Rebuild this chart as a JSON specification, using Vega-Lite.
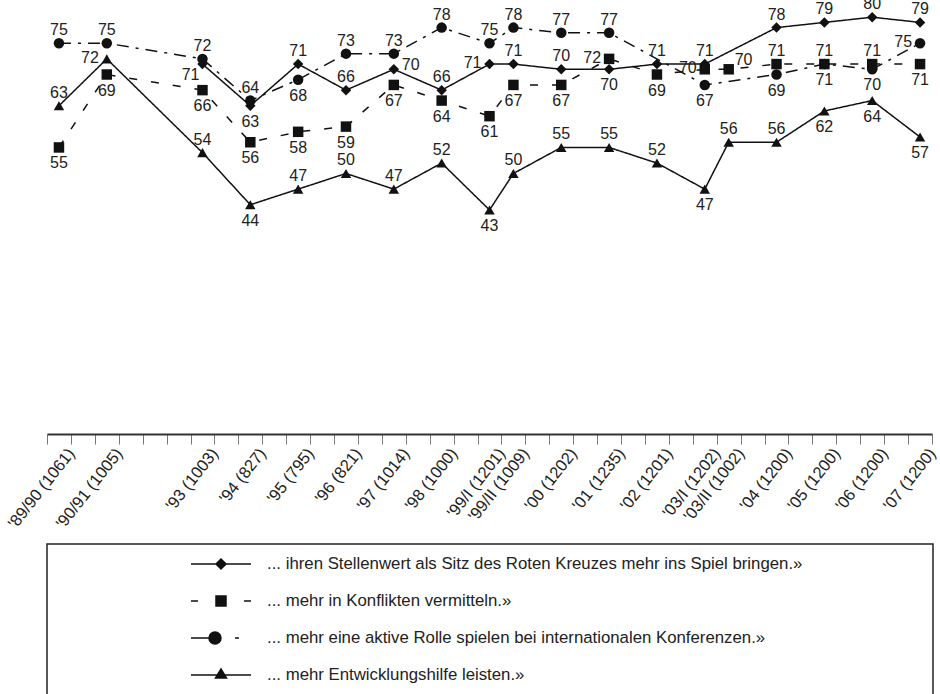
{
  "$schema": "https://vega.github.io/schema/vega-lite/v6.json",
  "width": 885,
  "height": 434,
  "autosize": "none",
  "padding": {"left": 47, "top": 0, "right": 8, "bottom": 260},
  "config": {
    "view": {"stroke": null},
    "font": "Liberation Sans",
    "axis": {
      "labelFont": "Liberation Sans",
      "labelFontSize": 16.5,
      "labelColor": "#222",
      "domainColor": "#333",
      "domainWidth": 2,
      "tickColor": "#777",
      "tickWidth": 1,
      "tickSize": 10,
      "grid": false,
      "title": null
    },
    "legend": {
      "orient": "none",
      "legendX": 0,
      "legendY": 544,
      "padding": 9,
      "strokeColor": "#222",
      "strokeWidth": 1.5,
      "labelFont": "Liberation Sans",
      "labelFontSize": 16.8,
      "labelColor": "#222",
      "labelLimit": 2000,
      "symbolSize": 400,
      "symbolStrokeWidth": 1.5,
      "symbolOpacity": 1,
      "symbolOffset": 154,
      "labelOffset": 35,
      "rowPadding": 17
    }
  },
  "datasets": {
    "werte": [
      {"welle": "'93 (1003)", "reihe": "... ihren Stellenwert als Sitz des Roten Kreuzes mehr ins Spiel bringen.»", "wert": 71},
      {"welle": "'94 (827)", "reihe": "... ihren Stellenwert als Sitz des Roten Kreuzes mehr ins Spiel bringen.»", "wert": 63},
      {"welle": "'95 (795)", "reihe": "... ihren Stellenwert als Sitz des Roten Kreuzes mehr ins Spiel bringen.»", "wert": 71},
      {"welle": "'96 (821)", "reihe": "... ihren Stellenwert als Sitz des Roten Kreuzes mehr ins Spiel bringen.»", "wert": 66},
      {"welle": "'97 (1014)", "reihe": "... ihren Stellenwert als Sitz des Roten Kreuzes mehr ins Spiel bringen.»", "wert": 70},
      {"welle": "'98 (1000)", "reihe": "... ihren Stellenwert als Sitz des Roten Kreuzes mehr ins Spiel bringen.»", "wert": 66},
      {"welle": "'99/I (1201)", "reihe": "... ihren Stellenwert als Sitz des Roten Kreuzes mehr ins Spiel bringen.»", "wert": 71},
      {"welle": "'99/II (1009)", "reihe": "... ihren Stellenwert als Sitz des Roten Kreuzes mehr ins Spiel bringen.»", "wert": 71},
      {"welle": "'00 (1202)", "reihe": "... ihren Stellenwert als Sitz des Roten Kreuzes mehr ins Spiel bringen.»", "wert": 70},
      {"welle": "'01 (1235)", "reihe": "... ihren Stellenwert als Sitz des Roten Kreuzes mehr ins Spiel bringen.»", "wert": 70},
      {"welle": "'02 (1201)", "reihe": "... ihren Stellenwert als Sitz des Roten Kreuzes mehr ins Spiel bringen.»", "wert": 71},
      {"welle": "'03/I (1202)", "reihe": "... ihren Stellenwert als Sitz des Roten Kreuzes mehr ins Spiel bringen.»", "wert": 71},
      {"welle": "'04 (1200)", "reihe": "... ihren Stellenwert als Sitz des Roten Kreuzes mehr ins Spiel bringen.»", "wert": 78},
      {"welle": "'05 (1200)", "reihe": "... ihren Stellenwert als Sitz des Roten Kreuzes mehr ins Spiel bringen.»", "wert": 79},
      {"welle": "'06 (1200)", "reihe": "... ihren Stellenwert als Sitz des Roten Kreuzes mehr ins Spiel bringen.»", "wert": 80},
      {"welle": "'07 (1200)", "reihe": "... ihren Stellenwert als Sitz des Roten Kreuzes mehr ins Spiel bringen.»", "wert": 79},

      {"welle": "'89/90 (1061)", "reihe": "... mehr in Konflikten vermitteln.»", "wert": 55},
      {"welle": "'90/91 (1005)", "reihe": "... mehr in Konflikten vermitteln.»", "wert": 69},
      {"welle": "'93 (1003)", "reihe": "... mehr in Konflikten vermitteln.»", "wert": 66},
      {"welle": "'94 (827)", "reihe": "... mehr in Konflikten vermitteln.»", "wert": 56},
      {"welle": "'95 (795)", "reihe": "... mehr in Konflikten vermitteln.»", "wert": 58},
      {"welle": "'96 (821)", "reihe": "... mehr in Konflikten vermitteln.»", "wert": 59},
      {"welle": "'97 (1014)", "reihe": "... mehr in Konflikten vermitteln.»", "wert": 67},
      {"welle": "'98 (1000)", "reihe": "... mehr in Konflikten vermitteln.»", "wert": 64},
      {"welle": "'99/I (1201)", "reihe": "... mehr in Konflikten vermitteln.»", "wert": 61},
      {"welle": "'99/II (1009)", "reihe": "... mehr in Konflikten vermitteln.»", "wert": 67},
      {"welle": "'00 (1202)", "reihe": "... mehr in Konflikten vermitteln.»", "wert": 67},
      {"welle": "'01 (1235)", "reihe": "... mehr in Konflikten vermitteln.»", "wert": 72},
      {"welle": "'02 (1201)", "reihe": "... mehr in Konflikten vermitteln.»", "wert": 69},
      {"welle": "'03/I (1202)", "reihe": "... mehr in Konflikten vermitteln.»", "wert": 70},
      {"welle": "'03/II (1002)", "reihe": "... mehr in Konflikten vermitteln.»", "wert": 70},
      {"welle": "'04 (1200)", "reihe": "... mehr in Konflikten vermitteln.»", "wert": 71},
      {"welle": "'05 (1200)", "reihe": "... mehr in Konflikten vermitteln.»", "wert": 71},
      {"welle": "'06 (1200)", "reihe": "... mehr in Konflikten vermitteln.»", "wert": 71},
      {"welle": "'07 (1200)", "reihe": "... mehr in Konflikten vermitteln.»", "wert": 71},

      {"welle": "'89/90 (1061)", "reihe": "... mehr eine aktive Rolle spielen bei internationalen Konferenzen.»", "wert": 75},
      {"welle": "'90/91 (1005)", "reihe": "... mehr eine aktive Rolle spielen bei internationalen Konferenzen.»", "wert": 75},
      {"welle": "'93 (1003)", "reihe": "... mehr eine aktive Rolle spielen bei internationalen Konferenzen.»", "wert": 72},
      {"welle": "'94 (827)", "reihe": "... mehr eine aktive Rolle spielen bei internationalen Konferenzen.»", "wert": 64},
      {"welle": "'95 (795)", "reihe": "... mehr eine aktive Rolle spielen bei internationalen Konferenzen.»", "wert": 68},
      {"welle": "'96 (821)", "reihe": "... mehr eine aktive Rolle spielen bei internationalen Konferenzen.»", "wert": 73},
      {"welle": "'97 (1014)", "reihe": "... mehr eine aktive Rolle spielen bei internationalen Konferenzen.»", "wert": 73},
      {"welle": "'98 (1000)", "reihe": "... mehr eine aktive Rolle spielen bei internationalen Konferenzen.»", "wert": 78},
      {"welle": "'99/I (1201)", "reihe": "... mehr eine aktive Rolle spielen bei internationalen Konferenzen.»", "wert": 75},
      {"welle": "'99/II (1009)", "reihe": "... mehr eine aktive Rolle spielen bei internationalen Konferenzen.»", "wert": 78},
      {"welle": "'00 (1202)", "reihe": "... mehr eine aktive Rolle spielen bei internationalen Konferenzen.»", "wert": 77},
      {"welle": "'01 (1235)", "reihe": "... mehr eine aktive Rolle spielen bei internationalen Konferenzen.»", "wert": 77},
      {"welle": "'03/I (1202)", "reihe": "... mehr eine aktive Rolle spielen bei internationalen Konferenzen.»", "wert": 67},
      {"welle": "'04 (1200)", "reihe": "... mehr eine aktive Rolle spielen bei internationalen Konferenzen.»", "wert": 69},
      {"welle": "'05 (1200)", "reihe": "... mehr eine aktive Rolle spielen bei internationalen Konferenzen.»", "wert": 71},
      {"welle": "'06 (1200)", "reihe": "... mehr eine aktive Rolle spielen bei internationalen Konferenzen.»", "wert": 70},
      {"welle": "'07 (1200)", "reihe": "... mehr eine aktive Rolle spielen bei internationalen Konferenzen.»", "wert": 75},

      {"welle": "'89/90 (1061)", "reihe": "... mehr Entwicklungshilfe leisten.»", "wert": 63},
      {"welle": "'90/91 (1005)", "reihe": "... mehr Entwicklungshilfe leisten.»", "wert": 72},
      {"welle": "'93 (1003)", "reihe": "... mehr Entwicklungshilfe leisten.»", "wert": 54},
      {"welle": "'94 (827)", "reihe": "... mehr Entwicklungshilfe leisten.»", "wert": 44},
      {"welle": "'95 (795)", "reihe": "... mehr Entwicklungshilfe leisten.»", "wert": 47},
      {"welle": "'96 (821)", "reihe": "... mehr Entwicklungshilfe leisten.»", "wert": 50},
      {"welle": "'97 (1014)", "reihe": "... mehr Entwicklungshilfe leisten.»", "wert": 47},
      {"welle": "'98 (1000)", "reihe": "... mehr Entwicklungshilfe leisten.»", "wert": 52},
      {"welle": "'99/I (1201)", "reihe": "... mehr Entwicklungshilfe leisten.»", "wert": 43},
      {"welle": "'99/II (1009)", "reihe": "... mehr Entwicklungshilfe leisten.»", "wert": 50},
      {"welle": "'00 (1202)", "reihe": "... mehr Entwicklungshilfe leisten.»", "wert": 55},
      {"welle": "'01 (1235)", "reihe": "... mehr Entwicklungshilfe leisten.»", "wert": 55},
      {"welle": "'02 (1201)", "reihe": "... mehr Entwicklungshilfe leisten.»", "wert": 52},
      {"welle": "'03/I (1202)", "reihe": "... mehr Entwicklungshilfe leisten.»", "wert": 47},
      {"welle": "'03/II (1002)", "reihe": "... mehr Entwicklungshilfe leisten.»", "wert": 56},
      {"welle": "'04 (1200)", "reihe": "... mehr Entwicklungshilfe leisten.»", "wert": 56},
      {"welle": "'05 (1200)", "reihe": "... mehr Entwicklungshilfe leisten.»", "wert": 62},
      {"welle": "'06 (1200)", "reihe": "... mehr Entwicklungshilfe leisten.»", "wert": 64},
      {"welle": "'07 (1200)", "reihe": "... mehr Entwicklungshilfe leisten.»", "wert": 57}
    ]
  },
  "data": {"name": "werte"},
  "encoding": {
    "x": {
      "field": "welle",
      "type": "ordinal",
      "scale": {
        "type": "band",
        "paddingInner": 0,
        "paddingOuter": 0,
        "domain": [
          "'89/90 (1061)", "_1", "'90/91 (1005)", "_3", "_4", "_5", "'93 (1003)", "_7",
          "'94 (827)", "_9", "'95 (795)", "_11", "'96 (821)", "_13", "'97 (1014)", "_15",
          "'98 (1000)", "_17", "'99/I (1201)", "'99/II (1009)", "_20", "'00 (1202)", "_22",
          "'01 (1235)", "_24", "'02 (1201)", "_26", "'03/I (1202)", "'03/II (1002)", "_29",
          "'04 (1200)", "_31", "'05 (1200)", "_33", "'06 (1200)", "_35", "'07 (1200)"
        ]
      },
      "axis": {
        "tickBand": "extent",
        "labelAngle": -52,
        "labelAlign": "right",
        "labelBaseline": "middle",
        "labelOffset": 12,
        "labelPadding": 6,
        "labelExpr": "test(/^_/, datum.label) ? '' : datum.label"
      }
    },
    "y": {
      "field": "wert",
      "type": "quantitative",
      "scale": {"domain": [0, 83.3], "nice": false, "zero": true},
      "axis": null
    }
  },
  "layer": [
    {
      "mark": {"type": "line", "color": "#111", "strokeWidth": 1.5},
      "encoding": {
        "strokeDash": {
          "field": "reihe",
          "type": "nominal",
          "scale": {
            "domain": [
              "... ihren Stellenwert als Sitz des Roten Kreuzes mehr ins Spiel bringen.»",
              "... mehr in Konflikten vermitteln.»",
              "... mehr eine aktive Rolle spielen bei internationalen Konferenzen.»",
              "... mehr Entwicklungshilfe leisten.»"
            ],
            "range": [[1, 0], [8, 14], [12, 7, 3, 7], [1, 0]]
          },
          "legend": null
        },
        "order": {"value": null}
      }
    },
    {
      "mark": {"type": "point", "filled": true, "color": "#111", "opacity": 1, "size": 110},
      "encoding": {
        "shape": {
          "field": "reihe",
          "type": "nominal",
          "scale": {
            "domain": [
              "... ihren Stellenwert als Sitz des Roten Kreuzes mehr ins Spiel bringen.»",
              "... mehr in Konflikten vermitteln.»",
              "... mehr eine aktive Rolle spielen bei internationalen Konferenzen.»",
              "... mehr Entwicklungshilfe leisten.»"
            ],
            "range": ["diamond", "square", "circle", "triangle-up"]
          },
          "legend": null
        }
      }
    },
    {
      "transform": [{"filter": {"or": [
        {"and": [{"field": "reihe", "equal": "... ihren Stellenwert als Sitz des Roten Kreuzes mehr ins Spiel bringen.»"}, {"not": {"field": "welle", "oneOf": ["'93 (1003)", "'94 (827)", "'97 (1014)", "'99/I (1201)", "'01 (1235)"]}}]},
        {"and": [{"field": "reihe", "equal": "... mehr in Konflikten vermitteln.»"}, {"field": "welle", "oneOf": ["'04 (1200)", "'05 (1200)", "'06 (1200)"]}]},
        {"and": [{"field": "reihe", "equal": "... mehr eine aktive Rolle spielen bei internationalen Konferenzen.»"}, {"not": {"field": "welle", "oneOf": ["'95 (795)", "'03/I (1202)", "'04 (1200)", "'05 (1200)", "'06 (1200)", "'07 (1200)"]}}]},
        {"and": [{"field": "reihe", "equal": "... mehr Entwicklungshilfe leisten.»"}, {"not": {"field": "welle", "oneOf": ["'90/91 (1005)", "'94 (827)", "'99/I (1201)", "'03/I (1202)", "'05 (1200)", "'06 (1200)", "'07 (1200)"]}}]}
      ]}}],
      "mark": {"type": "text", "font": "Liberation Sans", "fontSize": 16, "color": "#222", "align": "center", "baseline": "alphabetic", "dy": -8},
      "encoding": {"text": {"field": "wert", "type": "quantitative", "format": "d"}}
    },
    {
      "transform": [{"filter": {"or": [
        {"and": [{"field": "reihe", "equal": "... ihren Stellenwert als Sitz des Roten Kreuzes mehr ins Spiel bringen.»"}, {"field": "welle", "oneOf": ["'94 (827)", "'01 (1235)"]}]},
        {"and": [{"field": "reihe", "equal": "... mehr in Konflikten vermitteln.»"}, {"not": {"field": "welle", "oneOf": ["'01 (1235)", "'03/I (1202)", "'03/II (1002)", "'04 (1200)", "'05 (1200)", "'06 (1200)"]}}]},
        {"and": [{"field": "reihe", "equal": "... mehr eine aktive Rolle spielen bei internationalen Konferenzen.»"}, {"field": "welle", "oneOf": ["'95 (795)", "'03/I (1202)", "'04 (1200)", "'05 (1200)", "'06 (1200)"]}]},
        {"and": [{"field": "reihe", "equal": "... mehr Entwicklungshilfe leisten.»"}, {"field": "welle", "oneOf": ["'94 (827)", "'99/I (1201)", "'03/I (1202)", "'05 (1200)", "'06 (1200)", "'07 (1200)"]}]}
      ]}}],
      "mark": {"type": "text", "font": "Liberation Sans", "fontSize": 16, "color": "#222", "align": "center", "baseline": "alphabetic", "dy": 21},
      "encoding": {"text": {"field": "wert", "type": "quantitative", "format": "d"}}
    },
    {
      "transform": [{"filter": {"or": [
        {"and": [{"field": "reihe", "equal": "... ihren Stellenwert als Sitz des Roten Kreuzes mehr ins Spiel bringen.»"}, {"field": "welle", "equal": "'99/I (1201)"}]},
        {"and": [{"field": "reihe", "equal": "... mehr in Konflikten vermitteln.»"}, {"field": "welle", "oneOf": ["'01 (1235)", "'03/I (1202)"]}]},
        {"and": [{"field": "reihe", "equal": "... mehr eine aktive Rolle spielen bei internationalen Konferenzen.»"}, {"field": "welle", "equal": "'07 (1200)"}]},
        {"and": [{"field": "reihe", "equal": "... mehr Entwicklungshilfe leisten.»"}, {"field": "welle", "equal": "'90/91 (1005)"}]}
      ]}}],
      "mark": {"type": "text", "font": "Liberation Sans", "fontSize": 16, "color": "#222", "align": "right", "baseline": "alphabetic", "dx": -8, "dy": 4},
      "encoding": {"text": {"field": "wert", "type": "quantitative", "format": "d"}}
    },
    {
      "transform": [{"filter": {"and": [{"field": "reihe", "equal": "... ihren Stellenwert als Sitz des Roten Kreuzes mehr ins Spiel bringen.»"}, {"field": "welle", "equal": "'93 (1003)"}]}}],
      "mark": {"type": "text", "font": "Liberation Sans", "fontSize": 16, "color": "#222", "align": "right", "baseline": "alphabetic", "dx": -3, "dy": 16},
      "encoding": {"text": {"field": "wert", "type": "quantitative", "format": "d"}}
    },
    {
      "transform": [{"filter": {"and": [{"field": "reihe", "equal": "... ihren Stellenwert als Sitz des Roten Kreuzes mehr ins Spiel bringen.»"}, {"field": "welle", "equal": "'97 (1014)"}]}}],
      "mark": {"type": "text", "font": "Liberation Sans", "fontSize": 16, "color": "#222", "align": "left", "baseline": "alphabetic", "dx": 8, "dy": 1},
      "encoding": {"text": {"field": "wert", "type": "quantitative", "format": "d"}}
    },
    {
      "transform": [{"filter": {"and": [{"field": "reihe", "equal": "... mehr in Konflikten vermitteln.»"}, {"field": "welle", "equal": "'03/II (1002)"}]}}],
      "mark": {"type": "text", "font": "Liberation Sans", "fontSize": 16, "color": "#222", "align": "left", "baseline": "alphabetic", "dx": 6, "dy": -4},
      "encoding": {"text": {"field": "wert", "type": "quantitative", "format": "d"}}
    },
    {
      "mark": {"type": "point", "filled": true, "color": "#111", "stroke": "#111", "strokeWidth": 1.5, "opacity": 0},
      "encoding": {
        "shape": {
          "field": "reihe",
          "type": "nominal",
          "scale": {
            "domain": [
              "... ihren Stellenwert als Sitz des Roten Kreuzes mehr ins Spiel bringen.»",
              "... mehr in Konflikten vermitteln.»",
              "... mehr eine aktive Rolle spielen bei internationalen Konferenzen.»",
              "... mehr Entwicklungshilfe leisten.»"
            ],
            "range": [
              "M-3,0H3M0,-0.5L0.5,0L0,0.5L-0.5,0Z",
              "M-3,0H-2.3M2.3,0H3M-0.5,-0.5H0.5V0.5H-0.5Z",
              "M-3,0H-1.1M1.4,0H1.8M-0.6,-0.6A0.6,0.6 0 1,1 -0.6,0.6A0.6,0.6 0 1,1 -0.6,-0.6Z",
              "M-3,0H3M0,-0.6L0.55,0.3L-0.55,0.3ZM70,3"
            ]
          },
          "legend": {"title": null}
        }
      }
    }
  ],
  "resolve": {"scale": {"shape": "independent"}}
}
